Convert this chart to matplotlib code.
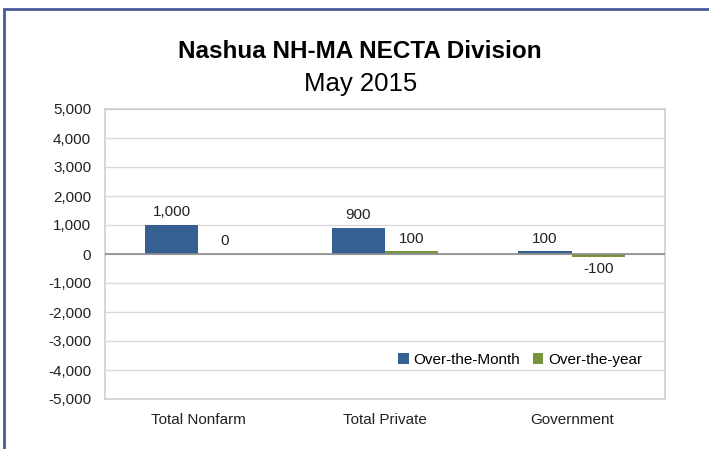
import numpy as np
import matplotlib.pyplot as plt
from matplotlib.patches import Rectangle

categories = ["Total Nonfarm", "Total Private", "Government"]
over_month = [1000, 900, 100]
over_year = [0, 100, -100]
month_labels = ["1,000", "900", "100"]
year_labels = ["0", "100", "-100"]
yticks = [-5000, -4000, -3000, -2000, -1000, 0, 1000, 2000, 3000, 4000, 5000]

plt.rcParams['font.family'] = ['Liberation Sans', 'DejaVu Sans']

fig = plt.figure(figsize=(7.09, 4.49), dpi=100)
ax = fig.add_axes([105 / 709, 1 - 399 / 449, 560 / 709, 290 / 449])

blue = "#376092"
green = "#77933c"
x = np.arange(len(categories))
w = 0.285
ax.bar(x - w / 2, over_month, w, color=blue, label="Over-the-Month", zorder=3)
ax.bar(x + w / 2, over_year, w, color=green, label="Over-the-year", zorder=3)

for i in range(len(categories)):
    ax.annotate(month_labels[i], (x[i] - w / 2, over_month[i]), xytext=(0, 4),
                textcoords="offset points", ha="center", va="bottom", fontsize=11, color="#222222")
    yv = over_year[i]
    if yv < 0:
        ax.annotate(year_labels[i], (x[i] + w / 2, yv), xytext=(0, -4),
                    textcoords="offset points", ha="center", va="top", fontsize=11, color="#222222")
    else:
        ax.annotate(year_labels[i], (x[i] + w / 2, yv), xytext=(0, 4),
                    textcoords="offset points", ha="center", va="bottom", fontsize=11, color="#222222")

ax.set_xlim(-0.5, 2.5)
ax.set_ylim(-5000, 5000)
ax.set_yticks(yticks)
ax.set_yticklabels([f"{v:,}" for v in yticks], fontsize=11, color="#222222")
ax.set_xticks(x)
ax.set_xticklabels(categories, fontsize=11, color="#222222")
ax.tick_params(length=0, pad=10)
ax.tick_params(axis="x", pad=10)
ax.grid(axis="y", color="#d9d9d9", linewidth=1, zorder=0)
ax.axhline(0, color="#8c8c8c", linewidth=1.2, zorder=4)
for s in ax.spines.values():
    s.set_color("#d0d0d0")
    s.set_linewidth(1.2)

ax.legend(loc="lower right", bbox_to_anchor=(0.97, 0.09), ncol=2, frameon=False,
          fontsize=11, handlelength=0.7, handleheight=0.7, handletextpad=0.3,
          columnspacing=0.8, borderaxespad=0)

fig.text(0.508, 0.885, "Nashua NH-MA NECTA Division", ha="center", va="center",
         fontsize=17.5, fontweight="bold")
fig.text(0.508, 0.812, "May 2015", ha="center", va="center", fontsize=18.5)

# blue page frame along top and left
fig.add_artist(Rectangle((4 / 709, -0.1), 1.2, 1.1 - 9 / 449, transform=fig.transFigure,
                         fill=False, edgecolor="#4a5b9b", linewidth=2))

fig.savefig("out.png", dpi=100)
